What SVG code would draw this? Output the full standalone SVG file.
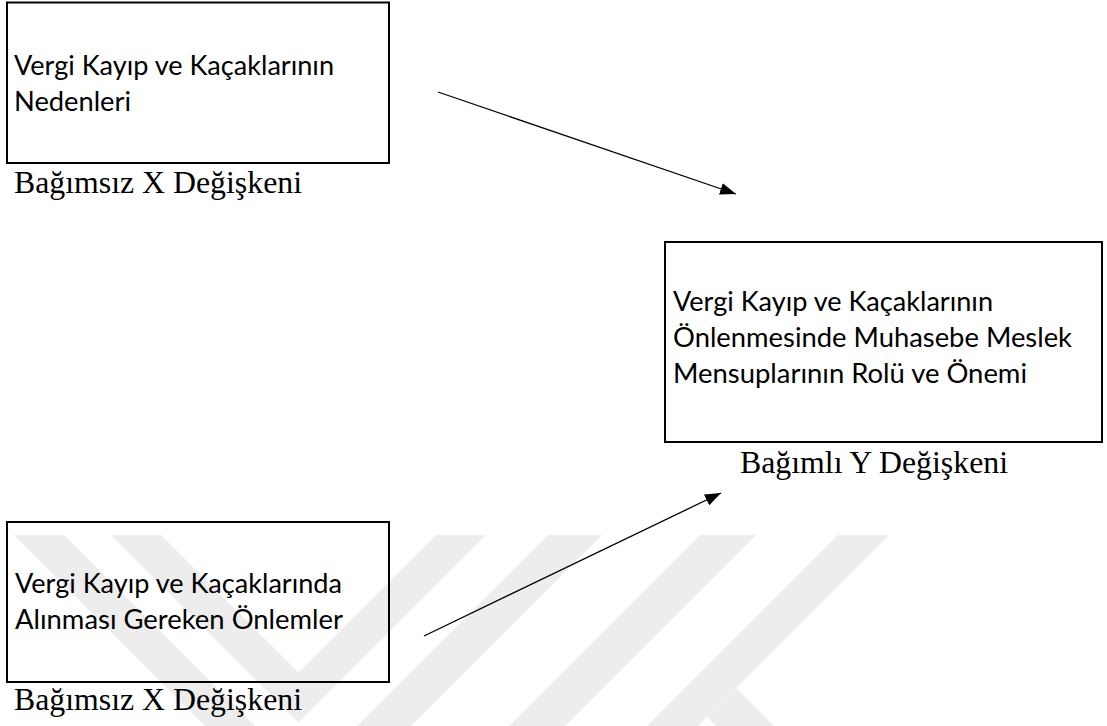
<svg xmlns="http://www.w3.org/2000/svg" width="1107" height="726" viewBox="0 0 1107 726">
  <style>
    .box { fill: none; stroke: #000; stroke-width: 2; }
    .t { font-family: Lato, "Open Sans", "DejaVu Sans", sans-serif; font-size: 26.4px; fill: #000; }
    .lbl { font-family: "Liberation Serif", "Times New Roman", serif; font-size: 32px; fill: #000; }
    .wm { fill: #ededed; }
    .conn { stroke: #000; stroke-width: 1.3; fill: none; marker-end: url(#arrow); }
  </style>
  <defs>
    <marker id="arrow" markerUnits="userSpaceOnUse" markerWidth="16" markerHeight="12" refX="16" refY="6" orient="auto">
      <path d="M0,0 L16,6 L0,12 Z" fill="#000"/>
    </marker>
  </defs>
  <rect x="0" y="0" width="1107" height="726" fill="#fff"/>
  <g id="watermark">
    <polygon class="wm" points="14,535 64,535 255,726 205,726"/>
    <polygon class="wm" points="111,535 161,535 298.5,672.5 436,535 486,535 298.5,722.5"/>
    <polygon class="wm" points="548,535 602,535 411,726 357,726"/>
    <polygon class="wm" points="700,535 756,535 565,726 509,726"/>
    <polygon class="wm" points="838,535 889,535 698,726 647,726"/>
    <polygon class="wm" points="736,688 774,726 716,726 707,717"/>
  </g>
  <g id="connectors">
    <line class="conn" x1="438" y1="92" x2="736" y2="194"/>
    <line class="conn" x1="424" y1="636" x2="721" y2="493"/>
  </g>
  <g id="node-causes">
    <rect class="box" x="7" y="2.5" width="382" height="160.5"/>
    <text class="t" x="14" y="75" textLength="320" lengthAdjust="spacingAndGlyphs">Vergi Kayıp ve Kaçaklarının</text>
    <text class="t" x="14" y="111" textLength="117" lengthAdjust="spacingAndGlyphs">Nedenleri</text>
    <text class="lbl" x="14" y="193" textLength="288" lengthAdjust="spacingAndGlyphs">Bağımsız X Değişkeni</text>
  </g>
  <g id="node-role">
    <rect class="box" x="665" y="242" width="437" height="200"/>
    <text class="t" x="673" y="311" textLength="320" lengthAdjust="spacingAndGlyphs">Vergi Kayıp ve Kaçaklarının</text>
    <text class="t" x="673" y="347" textLength="399" lengthAdjust="spacingAndGlyphs">Önlenmesinde Muhasebe Meslek</text>
    <text class="t" x="673" y="383" textLength="354" lengthAdjust="spacingAndGlyphs">Mensuplarının Rolü ve Önemi</text>
    <text class="lbl" x="740" y="473" textLength="268" lengthAdjust="spacingAndGlyphs">Bağımlı Y Değişkeni</text>
  </g>
  <g id="node-measures">
    <rect class="box" x="7" y="522" width="382" height="160"/>
    <text class="t" x="15" y="593" textLength="327" lengthAdjust="spacingAndGlyphs">Vergi Kayıp ve Kaçaklarında</text>
    <text class="t" x="15" y="629" textLength="328" lengthAdjust="spacingAndGlyphs">Alınması Gereken Önlemler</text>
    <text class="lbl" x="14" y="710" textLength="288" lengthAdjust="spacingAndGlyphs">Bağımsız X Değişkeni</text>
  </g>
</svg>
